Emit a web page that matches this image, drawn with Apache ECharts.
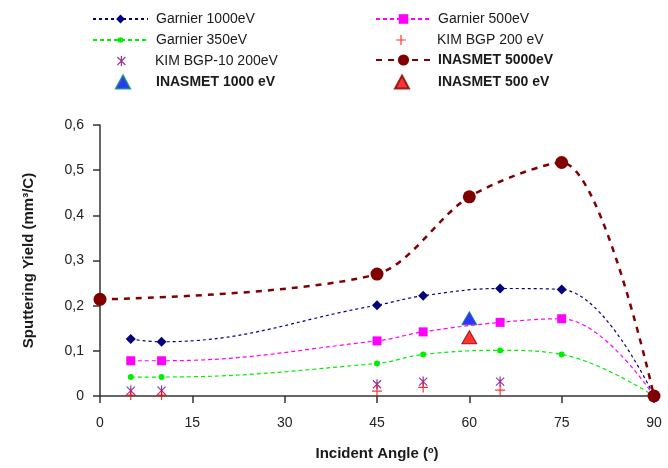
<!DOCTYPE html>
<html><head><meta charset="utf-8">
<script src="https://cdn.jsdelivr.net/npm/echarts@6/dist/echarts.min.js"></script>
<style>html,body{margin:0;padding:0;background:#fff}#c{width:668px;height:468px}</style>
</head><body><div id="c"></div>
<script>
// ---- data ----
const garnierAngles = [5, 10, 45, 52.5, 65, 75, 90];
const garnier1000 = [0.126, 0.120, 0.201, 0.222, 0.238, 0.236, 0];
const garnier500  = [0.078, 0.078, 0.122, 0.142, 0.163, 0.171, 0];
const garnier350  = [0.042, 0.042, 0.072, 0.092, 0.101, 0.092, 0];
const kimAngles = [5, 10, 45, 52.5, 65];
const kimBgp10 = [0.012, 0.012, 0.026, 0.032, 0.032];
const kimBgp   = [0.002, 0.002, 0.011, 0.019, 0.013];
const inasmetAngles = [0, 45, 60, 75, 90];
const inasmet5000 = [0.214, 0.270, 0.441, 0.517, 0];
const inasmet1000Angles = [60];
const inasmet1000 = [0.172];
const inasmet500Angles = [60];
const inasmet500 = [0.130];
const xTicks = [0, 15, 30, 45, 60, 75, 90];
const yTicks = [0, 0.1, 0.2, 0.3, 0.4, 0.5, 0.6];

const pair = (xs, ys) => xs.map((x, i) => [x, ys[i]]);

const asterisk = 'path://M-0.6,-5 L0.6,-5 L0.6,5 L-0.6,5 Z M-4.4,-3.6 L-3.6,-4.4 L4.4,3.6 L3.6,4.4 Z M3.6,-4.4 L4.4,-3.6 L-3.6,4.4 L-4.4,3.6 Z';
const plus = 'path://M-0.6,-5 L0.6,-5 L0.6,-0.6 L5,-0.6 L5,0.6 L0.6,0.6 L0.6,5 L-0.6,5 L-0.6,0.6 L-5,0.6 L-5,-0.6 L-0.6,-0.6 Z';

const FONT = 'Liberation Sans, Arial, sans-serif';

// centerY: row centre; iconLeft/iconW/iconH: icon box; textX: where text should start
function leg(name, iconLeft, centerY, iconW, iconH, textX, bold) {
  return {
    data: [name], left: iconLeft, top: centerY - Math.max(iconH, 12) / 2, padding: 0,
    itemWidth: iconW, itemHeight: iconH, itemGap: 0,
    selectedMode: false,
    textStyle: { fontFamily: FONT, fontSize: 14, color: '#1a1a1a', fontWeight: bold ? 'bold' : 'normal',
      padding: [0, 0, 0, textX - (iconLeft + iconW + 5)] }
  };
}

const option = {
  animation: false,
  backgroundColor: '#fff',
  legend: [
    leg('Garnier 1000eV', 92, 18, 55, 11, 155, false),
    leg('Garnier 350eV', 92, 39, 55, 7, 155, false),
    leg('KIM BGP-10 200eV', 117, 60, 9, 10, 155, false),
    leg('INASMET 1000 eV', 115, 81, 14, 13, 155, true),
    leg('Garnier 500eV', 375, 18, 55, 12, 437, false),
    leg('KIM BGP 200 eV', 396, 39, 10, 10, 437, false),
    leg('INASMET 5000eV', 375, 60, 55, 14, 437, true),
    leg('INASMET 500 eV', 394, 81, 14, 13, 437, true)
  ],
  grid: { left: 100, right: 14, top: 125, bottom: 72 },
  xAxis: {
    type: 'value', min: 0, max: 90, interval: 15,
    name: 'Incident Angle (º)', nameLocation: 'middle', nameGap: 50,
    nameTextStyle: { fontFamily: FONT, fontSize: 15, fontWeight: 'bold', color: '#1a1a1a' },
    axisLine: { lineStyle: { color: '#333', width: 1.5 } },
    axisTick: { show: true, length: 7, lineStyle: { color: '#333', width: 1.5 } },
    axisLabel: { fontFamily: FONT, fontSize: 14, color: '#222', margin: 20 },
    splitLine: { show: false }
  },
  yAxis: {
    type: 'value', min: 0, max: 0.6, interval: 0.1,
    name: 'Sputtering Yield (mm³/C)', nameLocation: 'middle', nameGap: 64,
    nameTextStyle: { fontFamily: FONT, fontSize: 15, fontWeight: 'bold', color: '#1a1a1a' },
    axisLine: { show: true, lineStyle: { color: '#333', width: 1.5 } },
    axisTick: { show: true, length: 7, lineStyle: { color: '#333', width: 1.5 } },
    axisLabel: { fontFamily: FONT, fontSize: 14, color: '#222', margin: 16,
      formatter: v => (Math.round(v * 10) / 10).toString().replace('.', ',') },
    splitLine: { show: false }
  },
  series: [
    { name: 'Garnier 1000eV', type: 'line', smooth: 0.4, clip: false,
      data: pair(garnierAngles, garnier1000),
      symbol: 'diamond', symbolSize: 10,
      itemStyle: { color: '#000080' },
      lineStyle: { color: '#000080', width: 1.2, type: [3, 3] } },
    { name: 'Garnier 500eV', type: 'line', smooth: 0.4, clip: false,
      data: pair(garnierAngles, garnier500),
      symbol: 'rect', symbolSize: 9,
      itemStyle: { color: '#ff00ff' },
      lineStyle: { color: '#ff00ff', width: 1.2, type: [4, 3] } },
    { name: 'Garnier 350eV', type: 'line', smooth: 0.4, clip: false,
      data: pair(garnierAngles, garnier350),
      symbol: 'circle', symbolSize: 6,
      itemStyle: { color: '#00ee00' },
      lineStyle: { color: '#00ee00', width: 1.2, type: [4, 3] } },
    { name: 'KIM BGP-10 200eV', type: 'scatter', clip: false,
      data: pair(kimAngles, kimBgp10),
      symbol: asterisk, symbolSize: [9, 10],
      itemStyle: { color: '#800080' } },
    { name: 'KIM BGP 200 eV', type: 'scatter', clip: false,
      data: pair(kimAngles, kimBgp),
      symbol: plus, symbolSize: [10, 10],
      itemStyle: { color: '#ff0000' } },
    { name: 'INASMET 5000eV', type: 'line', smooth: 0.3, clip: false,
      data: pair(inasmetAngles, inasmet5000),
      symbol: 'circle', symbolSize: 13,
      itemStyle: { color: '#800000' },
      lineStyle: { color: '#800000', width: 2.5, type: [6, 6] } },
    { name: 'INASMET 1000 eV', type: 'scatter', clip: false,
      data: pair(inasmet1000Angles, inasmet1000),
      symbol: 'triangle', symbolSize: [15, 13],
      itemStyle: { color: '#0000ff', borderColor: '#008080', borderWidth: 1 } },
    { name: 'INASMET 500 eV', type: 'scatter', clip: false,
      data: pair(inasmet500Angles, inasmet500),
      symbol: 'triangle', symbolSize: [15, 13],
      itemStyle: { color: '#ff0000', borderColor: '#800000', borderWidth: 1 } }
  ]
};
echarts.init(document.getElementById('c'), null, { renderer: 'canvas' }).setOption(option);
</script></body></html>
